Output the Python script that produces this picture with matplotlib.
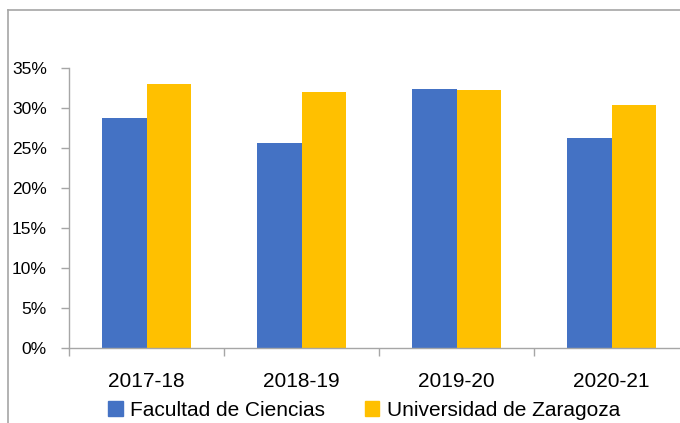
import matplotlib
matplotlib.use("Agg")
import matplotlib.pyplot as plt
import numpy as np
from matplotlib.lines import Line2D
from matplotlib.patches import Patch

categories = ["2017-18", "2018-19", "2019-20", "2020-21"]
series_names = ["Facultad de Ciencias", "Universidad de Zaragoza"]
facultad = [0.2875, 0.256, 0.324, 0.2625]
universidad = [0.330, 0.320, 0.3225, 0.304]
y_ticks = [0, 0.05, 0.10, 0.15, 0.20, 0.25, 0.30, 0.35]
y_labels = ["0%", "5%", "10%", "15%", "20%", "25%", "30%", "35%"]

blue = "#4472C4"
gold = "#FFC000"
gray = "#A6A6A6"

plt.rcParams['font.family'] = ['Liberation Sans', 'DejaVu Sans']

W, H = 680, 423
fig = plt.figure(figsize=(W / 100, H / 100), dpi=100)
ax = fig.add_axes([69 / W, (H - 348) / H, (680 - 69) / W, 280 / H])

x = np.arange(len(categories))
bw = 0.284
ax.bar(x - bw / 2, facultad, bw, color=blue, label=series_names[0])
ax.bar(x + bw / 2, universidad, bw, color=gold, label=series_names[1])

ax.set_xlim(-0.5, -0.5 + 611 / 155)
ax.set_ylim(0, 0.35)
ax.set_yticks(y_ticks)
ax.set_yticklabels(y_labels, fontsize=12.5)
ax.set_xticks(x)
ax.set_xticklabels(categories, fontsize=15)
ax.set_xticks(np.arange(len(categories)) + 0.5 - 1, minor=True)
ax.tick_params(axis='x', which='major', length=0, pad=17)
ax.tick_params(axis='x', which='minor', length=6, color=gray, width=1)
ax.tick_params(axis='y', length=6, color=gray, width=1, pad=10)

for s in ['top', 'right']:
    ax.spines[s].set_visible(False)
for s in ['left', 'bottom']:
    ax.spines[s].set_color(gray)
    ax.spines[s].set_linewidth(1)

# outer chart frame (partly cut off)
fig.add_artist(Line2D([8 / W, 1], [1 - 10 / H, 1 - 10 / H], transform=fig.transFigure, color=gray, lw=1.2))
fig.add_artist(Line2D([8 / W, 8 / W], [0, 1 - 10 / H], transform=fig.transFigure, color=gray, lw=1.2))

handles = [Patch(color=blue), Patch(color=gold)]
fig.legend(handles, series_names, loc='center', bbox_to_anchor=(364 / W, 1 - 410 / H),
           ncol=2, frameon=False, fontsize=15, handlelength=0.7, handleheight=0.75,
           handletextpad=0.35, columnspacing=1.9, borderpad=0, borderaxespad=0)

fig.savefig("out.png", dpi=100)
